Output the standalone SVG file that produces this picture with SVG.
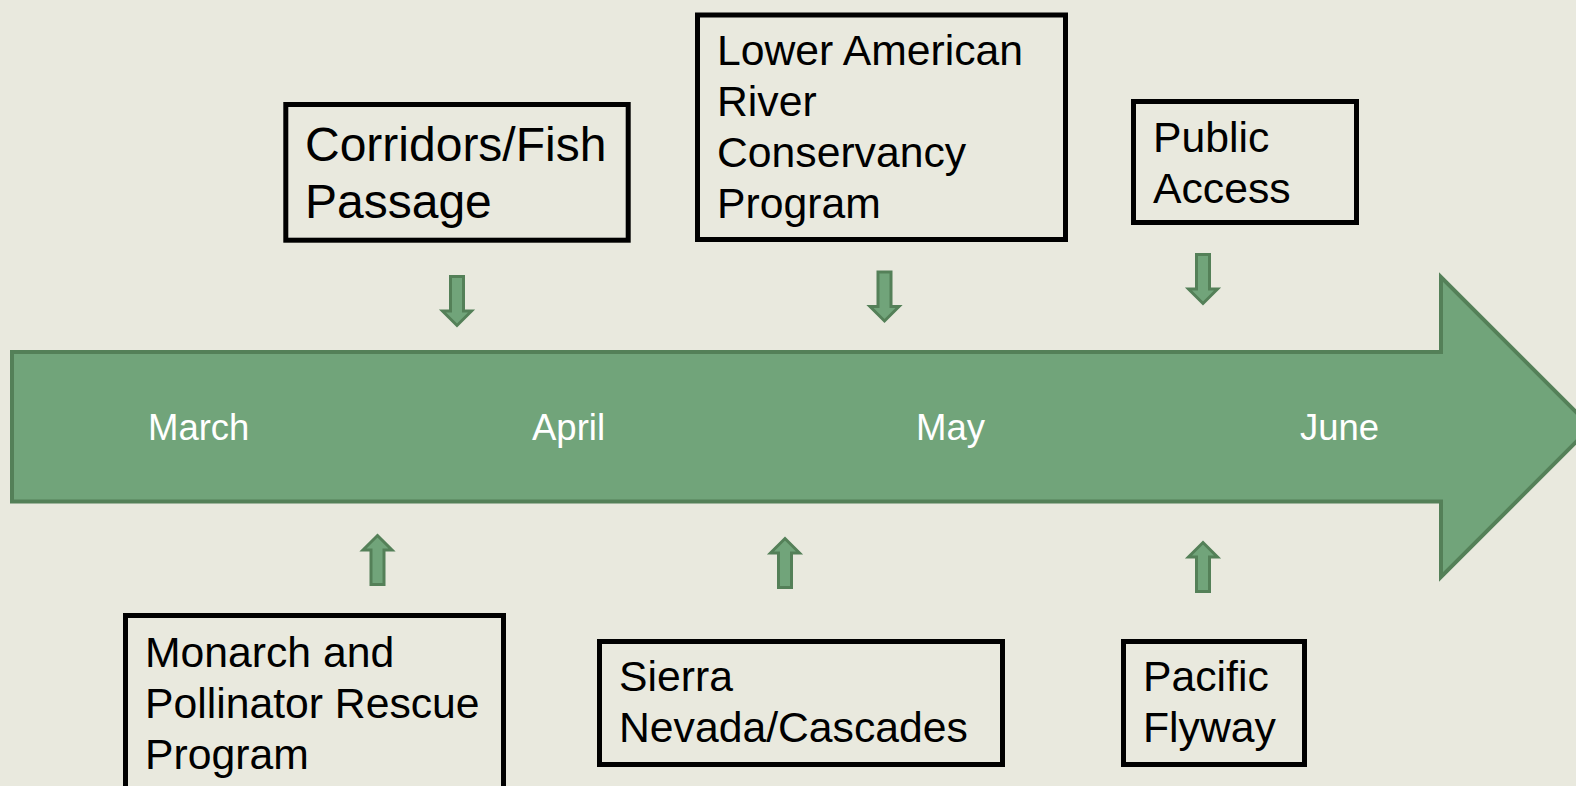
<svg xmlns="http://www.w3.org/2000/svg" width="1576" height="786" viewBox="0 0 1576 786">
<style>
.bg{fill:#e9e9de}
.tl{fill:#71a47a;stroke:#548058;stroke-width:4;stroke-linejoin:miter}
.sa{fill:#71a47a;stroke:#548058;stroke-width:3;stroke-linejoin:miter}
.box{fill:none;stroke:#000;stroke-width:5}
.t{font-family:"Liberation Sans",Arial,sans-serif;font-size:42.7px;fill:#000}
.tb{font-size:48px}
.m{font-family:"Liberation Sans",Arial,sans-serif;font-size:36.5px;fill:#fff}
</style>
<rect class="bg" x="0" y="0" width="1576" height="786"/>
<g id="timeline">
<path class="tl" d="M12,352 H1441 V277 L1591,427 L1441,577 V501.5 H12 Z"/>
<text class="m" x="148" y="440">March</text>
<text class="m" x="532" y="440">April</text>
<text class="m" x="916" y="440">May</text>
<text class="m" x="1300" y="440">June</text>
</g>
<g id="connectors">
<path class="sa" d="M450.5,276.5 H463.5 V311 H471.5 L457,325.5 L442.5,311 H450.5 Z"/>
<path class="sa" d="M878,272 H891 V306.5 H899 L884.5,321 L870,306.5 H878 Z"/>
<path class="sa" d="M1196.5,254.5 H1209.5 V289 H1217.5 L1203,303.5 L1188.5,289 H1196.5 Z"/>
<path class="sa" d="M371,584.5 H384 V550 H392 L377.5,535.5 L363,550 H371 Z"/>
<path class="sa" d="M778.5,587.5 H791.5 V553 H799.5 L785,538.5 L770.5,553 H778.5 Z"/>
<path class="sa" d="M1196.5,591.5 H1209.5 V557 H1217.5 L1203,542.5 L1188.5,557 H1196.5 Z"/>
</g>
<g id="corridors">
<rect class="box" x="285.8" y="104.5" width="342.4" height="135.7"/>
<text class="t tb" x="305" y="161">Corridors/Fish</text>
<text class="t tb" x="305" y="218">Passage</text>
</g>
<g id="lower-american">
<rect class="box" x="697.5" y="15" width="368" height="224.5"/>
<text class="t" x="717" y="65">Lower American</text>
<text class="t" x="717" y="116">River</text>
<text class="t" x="717" y="167">Conservancy</text>
<text class="t" x="717" y="218">Program</text>
</g>
<g id="public-access">
<rect class="box" x="1133.5" y="101.5" width="223" height="121"/>
<text class="t" x="1153" y="152">Public</text>
<text class="t" x="1153" y="203">Access</text>
</g>
<g id="monarch">
<rect class="box" x="125.5" y="615.5" width="378" height="200"/>
<text class="t" x="145" y="667">Monarch and</text>
<text class="t" x="145" y="718">Pollinator Rescue</text>
<text class="t" x="145" y="769">Program</text>
</g>
<g id="sierra">
<rect class="box" x="599.5" y="641.5" width="403" height="123"/>
<text class="t" x="619" y="691">Sierra</text>
<text class="t" x="619" y="742">Nevada/Cascades</text>
</g>
<g id="pacific">
<rect class="box" x="1123.5" y="641.5" width="181" height="123"/>
<text class="t" x="1143" y="691">Pacific</text>
<text class="t" x="1143" y="742">Flyway</text>
</g>
</svg>
